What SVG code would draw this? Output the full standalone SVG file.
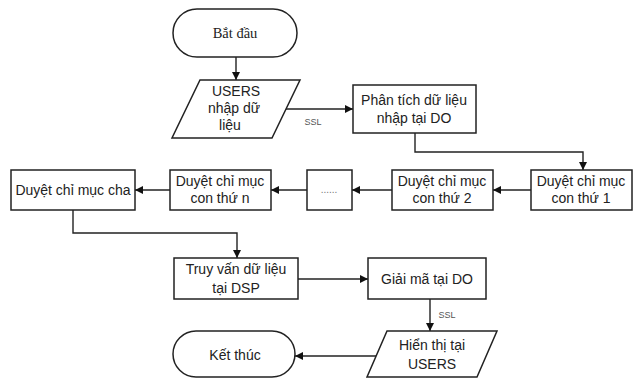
<svg xmlns="http://www.w3.org/2000/svg" width="638" height="378" viewBox="0 0 638 378">
<style>
.s{fill:#fff;stroke:#222;stroke-width:1.5}
.t{font-family:"Liberation Sans",Arial,sans-serif;font-size:14px;fill:#222;text-anchor:middle;dominant-baseline:central}
.serif{font-family:"Liberation Serif","Times New Roman",serif;font-size:14.5px}
.c{fill:none;stroke:#222;stroke-width:1.4}
.lab{font-family:"Liberation Sans",Arial,sans-serif;font-size:9px;fill:#555;text-anchor:middle;dominant-baseline:central}
</style>
<defs>
<marker id="a" viewBox="0 0 10 10" refX="10" refY="5" markerWidth="8" markerHeight="8" markerUnits="userSpaceOnUse" orient="auto">
<path d="M0,0 L10,5 L0,10 z" fill="#111"/>
</marker>
</defs>
<rect width="638" height="378" fill="#fff"/>
<g id="connectors">
<path class="c" d="M236,57 V80" marker-end="url(#a)"/>
<path class="c" d="M286,109 H353" marker-end="url(#a)"/>
<path class="c" d="M415,133 V152 H583 V170" marker-end="url(#a)"/>
<path class="c" d="M531,190 H493" marker-end="url(#a)"/>
<path class="c" d="M392,190 H352" marker-end="url(#a)"/>
<path class="c" d="M307,190 H271" marker-end="url(#a)"/>
<path class="c" d="M170,190 H135" marker-end="url(#a)"/>
<path class="c" d="M73,210 V233 H237 V258" marker-end="url(#a)"/>
<path class="c" d="M298,279 H368" marker-end="url(#a)"/>
<path class="c" d="M430,299 V331" marker-end="url(#a)"/>
<path class="c" d="M377,356 H295" marker-end="url(#a)"/>
<text class="lab" x="313" y="122">SSL</text>
<text class="lab" x="447" y="315">SSL</text>
</g>
<g id="start">
<rect class="s" x="173" y="9" width="124" height="48" rx="24"/>
<text class="t serif" x="235" y="33">Bắt đầu</text>
</g>
<g id="input">
<path class="s" d="M200,80 H300 L272,138 H172 Z"/>
<text class="t" x="236" y="91">USERS</text>
<text class="t" x="234" y="108">nhập dữ</text>
<text class="t" x="230" y="125">liệu</text>
</g>
<g id="analyze">
<rect class="s" x="353" y="85" width="123" height="48"/>
<text class="t" x="414" y="100">Phân tích dữ liệu</text>
<text class="t" x="414" y="118">nhập tại DO</text>
</g>
<g id="child1">
<rect class="s" x="531" y="170" width="101" height="40"/>
<text class="t" x="581" y="181">Duyệt chỉ mục</text>
<text class="t" x="581" y="198">con thứ 1</text>
</g>
<g id="child2">
<rect class="s" x="392" y="170" width="101" height="40"/>
<text class="t" x="442" y="181">Duyệt chỉ mục</text>
<text class="t" x="442" y="198">con thứ 2</text>
</g>
<g id="dots">
<rect class="s" x="307" y="170" width="45" height="40"/>
<text class="t" x="329" y="189" style="font-size:10px;fill:#777">......</text>
</g>
<g id="childn">
<rect class="s" x="170" y="170" width="101" height="40"/>
<text class="t" x="220" y="181">Duyệt chỉ mục</text>
<text class="t" x="220" y="198">con thứ n</text>
</g>
<g id="parent">
<rect class="s" x="11" y="170" width="124" height="40"/>
<text class="t" x="73" y="190">Duyệt chỉ mục cha</text>
</g>
<g id="query">
<rect class="s" x="174" y="258" width="124" height="41"/>
<text class="t" x="236" y="269">Truy vấn dữ liệu</text>
<text class="t" x="236" y="288">tại DSP</text>
</g>
<g id="decrypt">
<rect class="s" x="368" y="258" width="118" height="41"/>
<text class="t" x="427" y="279">Giải mã tại DO</text>
</g>
<g id="display">
<path class="s" d="M387,331 H497 L477,377 H367 Z"/>
<text class="t" x="432" y="345">Hiển thị tại</text>
<text class="t" x="432" y="364">USERS</text>
</g>
<g id="end">
<rect class="s" x="173" y="331" width="122" height="46" rx="23"/>
<text class="t" x="235" y="355">Kết thúc</text>
</g>
</svg>
